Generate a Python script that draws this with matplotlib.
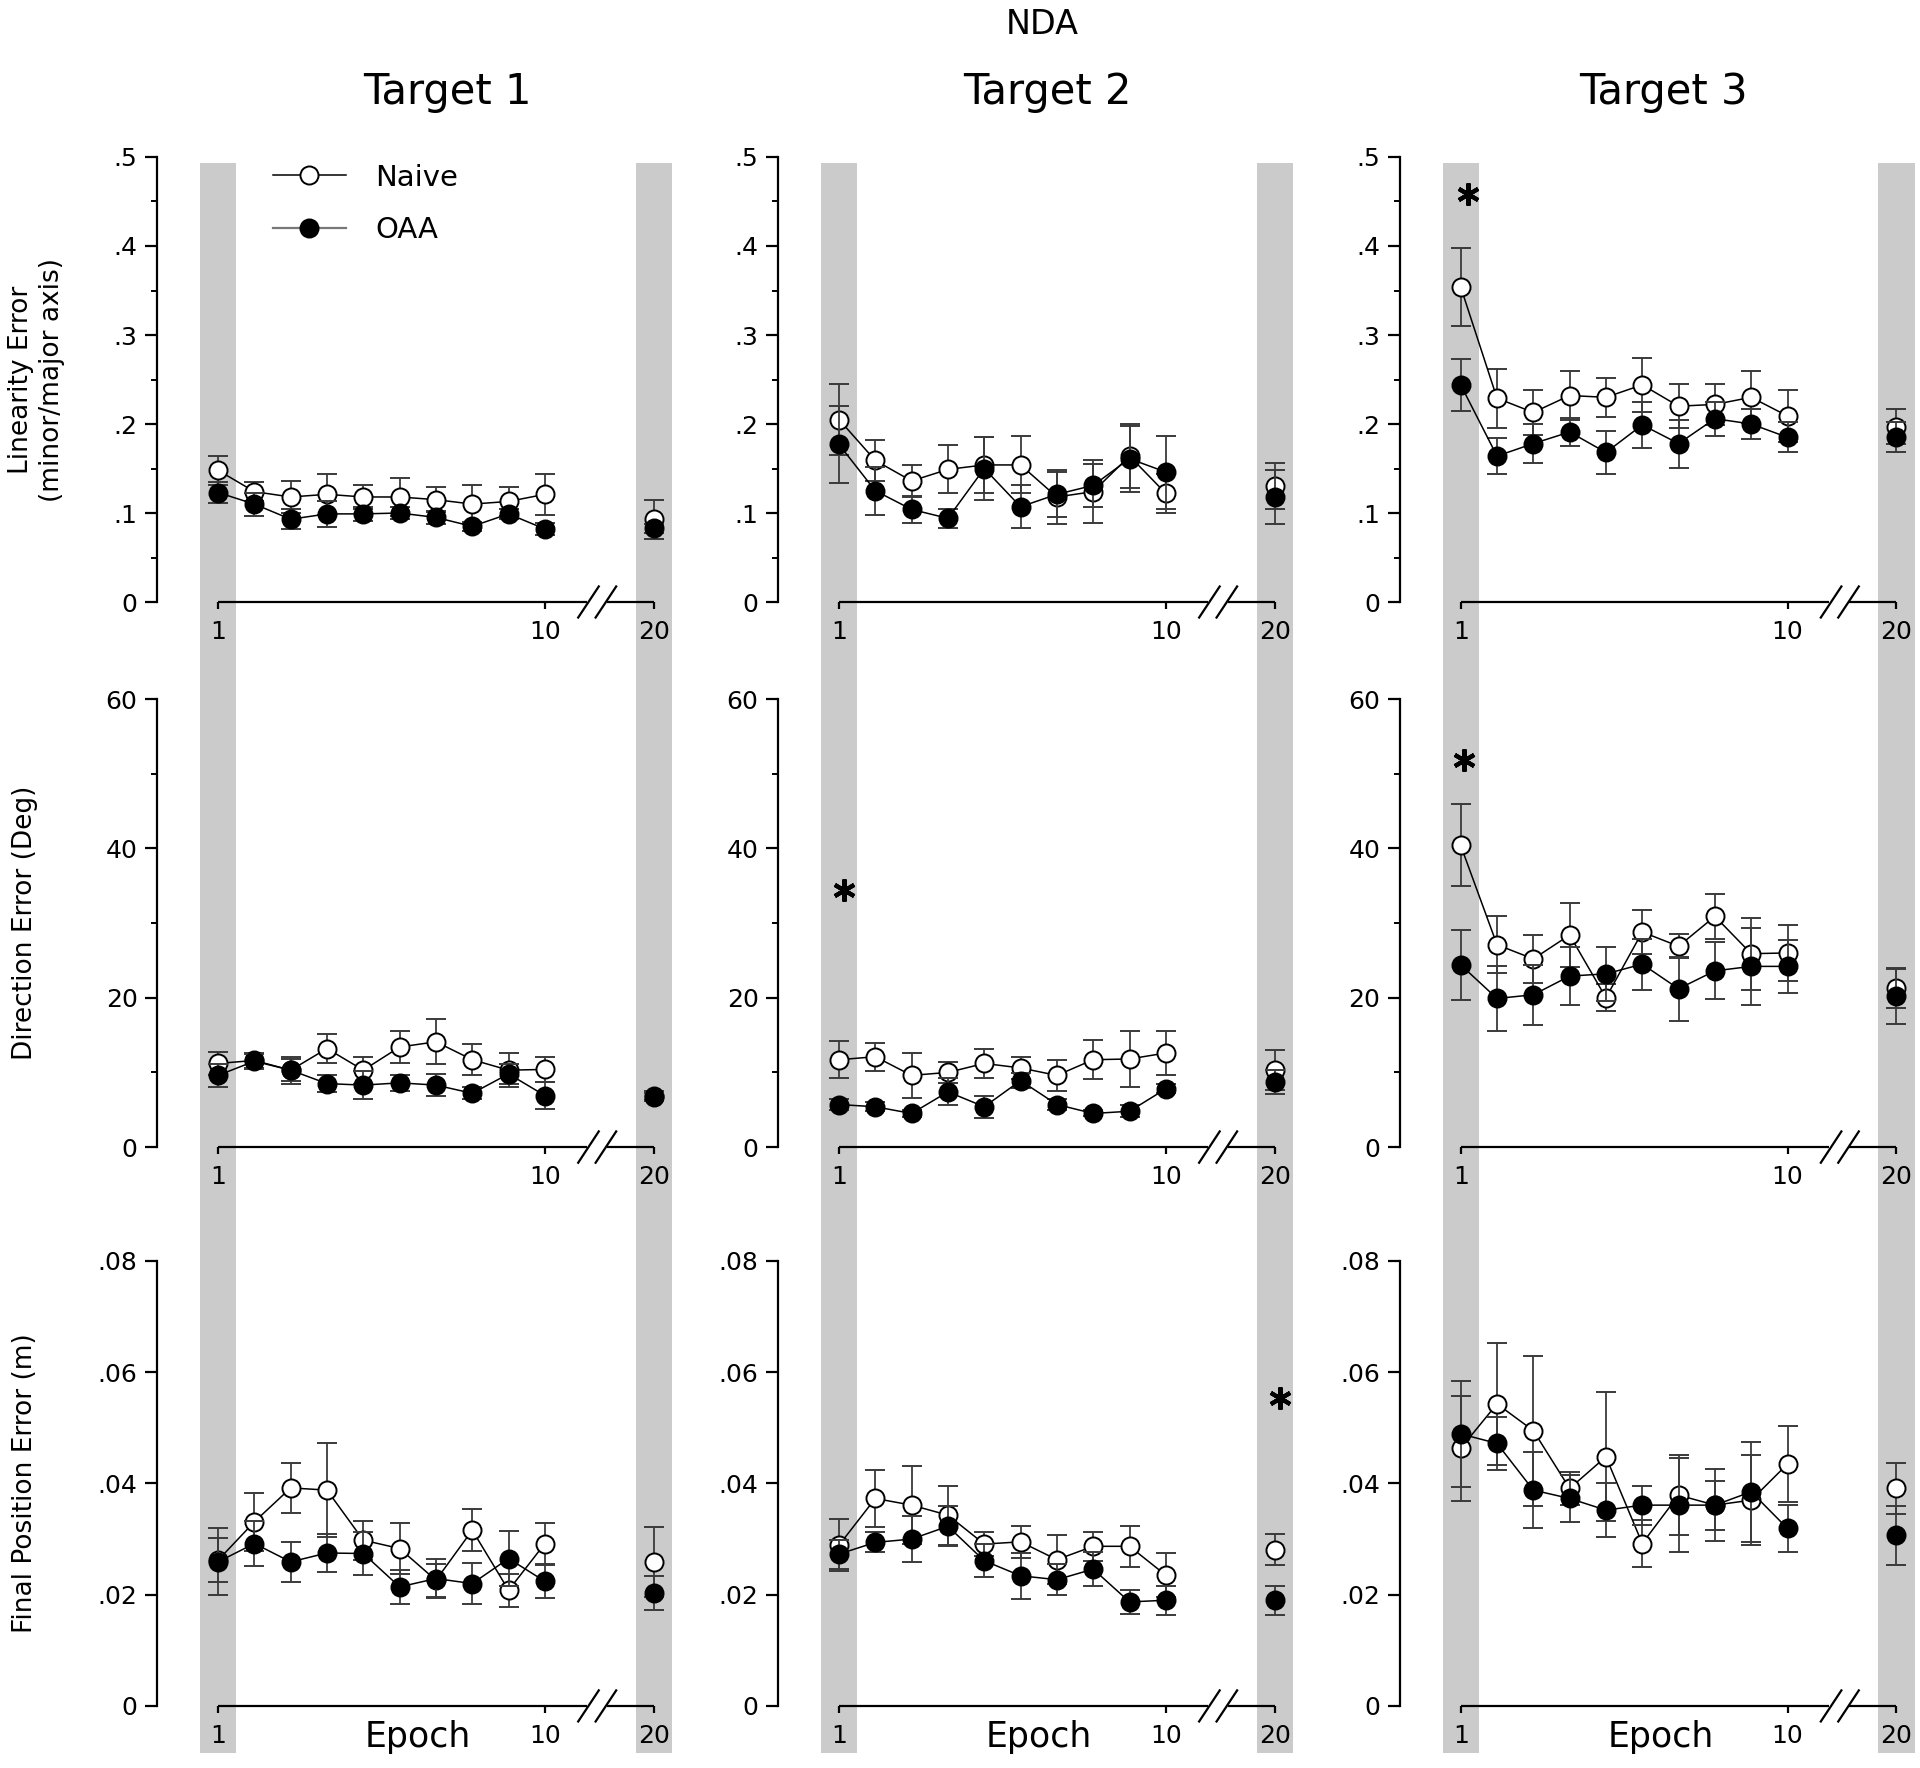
import numpy as np
import matplotlib.pyplot as plt
import matplotlib.transforms as mtransforms
from matplotlib.lines import Line2D
from matplotlib.patches import Rectangle
from matplotlib.ticker import MultipleLocator, FuncFormatter

EPOCHS = [1, 2, 3, 4, 5, 6, 7, 8, 9, 10, 20]
TARGETS = ['Target 1', 'Target 2', 'Target 3']

# Linearity error (minor/major axis)
lin_naive_t1 = [.148, .124, .118, .121, .118, .118, .115, .110, .113, .121, .093]
lin_naive_t1_err = [.016, .011, .018, .023, .014, .021, .014, .022, .016, .023, .022]
lin_oaa_t1 = [.123, .110, .093, .099, .099, .100, .095, .085, .099, .082, .083]
lin_oaa_t1_err = [.012, .013, .011, .015, .008, .007, .007, .005, .006, .007, .005]

lin_naive_t2 = [.205, .159, .136, .149, .154, .154, .118, .124, .164, .122, .130]
lin_naive_t2_err = [.040, .023, .018, .027, .031, .032, .030, .035, .036, .022, .026]
lin_oaa_t2 = [.177, .125, .104, .094, .150, .107, .121, .131, .161, .146, .118]
lin_oaa_t2_err = [.043, .027, .015, .011, .035, .024, .025, .024, .037, .041, .030]

lin_naive_t3 = [.354, .229, .213, .232, .230, .244, .220, .222, .230, .209, .197]
lin_naive_t3_err = [.044, .033, .025, .027, .022, .030, .025, .023, .029, .029, .020]
lin_oaa_t3 = [.244, .164, .178, .191, .168, .199, .178, .206, .200, .185, .185]
lin_oaa_t3_err = [.029, .020, .022, .016, .024, .026, .027, .019, .017, .017, .017]

# Direction error (deg)
dir_naive_t1 = [11.2, 11.6, 10.3, 13.2, 10.3, 13.4, 14.1, 11.7, 10.3, 10.4, 6.9]
dir_naive_t1_err = [1.5, 1.0, 1.8, 1.9, 1.8, 2.1, 3.0, 2.1, 2.3, 1.7, 0.6]
dir_oaa_t1 = [9.6, 11.5, 10.3, 8.5, 8.3, 8.6, 8.3, 7.2, 9.8, 6.9, 6.7]
dir_oaa_t1_err = [1.5, 1.0, 1.5, 1.1, 1.9, 1.1, 1.5, 0.8, 1.3, 1.8, 0.5]

dir_naive_t2 = [11.7, 12.1, 9.6, 10.0, 11.2, 10.6, 9.6, 11.7, 11.8, 12.6, 10.3]
dir_naive_t2_err = [2.5, 1.9, 3.0, 1.4, 1.9, 1.5, 2.1, 2.6, 3.7, 2.9, 2.7]
dir_oaa_t2 = [5.7, 5.4, 4.5, 7.4, 5.4, 8.9, 5.7, 4.5, 4.8, 7.8, 8.7]
dir_oaa_t2_err = [0.7, 0.6, 0.5, 1.8, 1.5, 1.0, 0.8, 0.4, 0.8, 0.6, 1.6]

dir_naive_t3 = [40.4, 27.1, 25.2, 28.4, 20.0, 28.8, 26.9, 30.9, 25.9, 26.0, 21.3]
dir_naive_t3_err = [5.5, 3.8, 3.2, 4.3, 1.8, 2.9, 1.6, 3.0, 4.8, 3.8, 2.7]
dir_oaa_t3 = [24.4, 19.9, 20.4, 22.9, 23.2, 24.5, 21.2, 23.6, 24.2, 24.2, 20.2]
dir_oaa_t3_err = [4.7, 4.3, 4.0, 3.9, 3.6, 3.4, 4.3, 3.8, 5.2, 3.5, 3.7]

# Final position error (m)
fpe_naive_t1 = [.0262, .0331, .0392, .0388, .0298, .0283, .0226, .0316, .0208, .0292, .0259]
fpe_naive_t1_err = [.004, .0052, .0045, .0084, .0035, .0045, .003, .0038, .003, .0036, .0063]
fpe_oaa_t1 = [.0259, .0292, .0259, .0275, .0274, .0214, .0229, .0220, .0265, .0224, .0203]
fpe_oaa_t1_err = [.006, .0041, .0036, .0035, .0039, .0031, .0035, .0037, .005, .003, .003]

fpe_naive_t2 = [.0289, .0373, .0361, .0343, .0291, .0295, .0263, .0287, .0287, .0235, .0281]
fpe_naive_t2_err = [.0047, .0052, .007, .0053, .0022, .0029, .0044, .0026, .0037, .004, .0028]
fpe_oaa_t2 = [.0273, .0294, .0300, .0323, .0261, .0234, .0227, .0246, .0187, .0190, .0190]
fpe_oaa_t2_err = [.0026, .0018, .0042, .0036, .003, .0041, .0028, .003, .0022, .0026, .0026]

fpe_naive_t3 = [.0463, .0543, .0495, .0391, .0448, .0292, .0379, .0361, .0370, .0435, .0391]
fpe_naive_t3_err = [.0095, .011, .0135, .003, .0116, .0042, .0072, .0044, .0081, .0068, .0046]
fpe_oaa_t3 = [.0489, .0472, .0388, .0373, .0352, .0361, .0361, .0361, .0385, .0319, .0307]
fpe_oaa_t3_err = [.0096, .0047, .0069, .0042, .0048, .0035, .0085, .0065, .009, .0042, .0053]

# significance stars: (row, column, epoch, value)
stars = [(0, 2, 1.2, .458), (1, 1, 1.15, 34.4), (1, 2, 1.1, 51.8), (2, 1, 20.15, .0553)]

rows = [
    dict(naive=[lin_naive_t1, lin_naive_t2, lin_naive_t3],
         naive_err=[lin_naive_t1_err, lin_naive_t2_err, lin_naive_t3_err],
         oaa=[lin_oaa_t1, lin_oaa_t2, lin_oaa_t3],
         oaa_err=[lin_oaa_t1_err, lin_oaa_t2_err, lin_oaa_t3_err],
         ymax=0.5, major=0.1, minor=0.05,
         label='Linearity Error\n(minor/major axis)'),
    dict(naive=[dir_naive_t1, dir_naive_t2, dir_naive_t3],
         naive_err=[dir_naive_t1_err, dir_naive_t2_err, dir_naive_t3_err],
         oaa=[dir_oaa_t1, dir_oaa_t2, dir_oaa_t3],
         oaa_err=[dir_oaa_t1_err, dir_oaa_t2_err, dir_oaa_t3_err],
         ymax=60, major=20, minor=10,
         label='Direction Error (Deg)'),
    dict(naive=[fpe_naive_t1, fpe_naive_t2, fpe_naive_t3],
         naive_err=[fpe_naive_t1_err, fpe_naive_t2_err, fpe_naive_t3_err],
         oaa=[fpe_oaa_t1, fpe_oaa_t2, fpe_oaa_t3],
         oaa_err=[fpe_oaa_t1_err, fpe_oaa_t2_err, fpe_oaa_t3_err],
         ymax=0.08, major=0.02, minor=None,
         label='Final Position Error (m)'),
]


def epoch_pos(e):
    # broken axis: epoch 20 sits 3 units after epoch 10
    e = np.asarray(e, dtype=float)
    return np.where(e > 10, e - 7, e)


def tick_fmt(v, pos):
    s = f'{v:g}'
    if s.startswith('0.'):
        s = s[1:]
    return s


def draw_series(ax, y, yerr, face, z):
    y = np.asarray(y)
    yerr = np.asarray(yerr)
    kw = dict(color='black', lw=1.1, ms=13, mfc=face, mec='black', mew=1.4,
              ecolor=err_color, elinewidth=1.3, capsize=7, capthick=1.3,
              clip_on=False, zorder=z)
    # epochs 1-10 joined by a line, epoch 20 stands alone after the break
    ax.errorbar(xpos[:-1], y[:-1], yerr=yerr[:-1], fmt='-o', **kw)
    ax.errorbar(xpos[-1:], y[-1:], yerr=yerr[-1:], fmt='o', **kw)


plt.rcParams['font.family'] = 'DejaVu Sans'
fig = plt.figure(figsize=(19.2, 17.68), dpi=100)

col_left = [0.0818, 0.4052, 0.7290]
row_bottom = [0.6595, 0.3512, 0.0351]
row_height = [0.2517, 0.2534, 0.2517]
width = 0.2682
xpos = epoch_pos(EPOCHS)
band_color = '#cbcbcb'
err_color = '#3a3a3a'

axes = [[None] * 3 for _ in range(3)]
for r, spec in enumerate(rows):
    for c in range(3):
        ax = fig.add_axes([col_left[c], row_bottom[r], width, row_height[r]])
        ax.patch.set_visible(False)
        axes[r][c] = ax
        ax.set_xlim(-0.68, 13.5)
        ax.set_ylim(0, spec['ymax'])

        draw_series(ax, spec['naive'][c], spec['naive_err'][c], 'white', 3)
        draw_series(ax, spec['oaa'][c], spec['oaa_err'][c], 'black', 4)

        for side in ['top', 'right', 'bottom']:
            ax.spines[side].set_visible(False)
        ax.spines['left'].set_linewidth(1.6)

        ax.yaxis.set_major_locator(MultipleLocator(spec['major']))
        if spec['minor']:
            ax.yaxis.set_minor_locator(MultipleLocator(spec['minor']))
        ax.yaxis.set_major_formatter(FuncFormatter(tick_fmt))
        ax.tick_params(axis='y', which='major', length=9, width=1.6, labelsize=18, pad=5)
        ax.tick_params(axis='y', which='minor', length=4.5, width=1.4)

        ax.set_xticks(epoch_pos([1, 10, 20]))
        ax.set_xticklabels(['1', '10', '20'])
        ax.tick_params(axis='x', length=5, width=1.6, labelsize=18, pad=8)

        # x axis line with break marks
        line_kw = dict(color='black', lw=1.6, clip_on=False, solid_capstyle='butt')
        ax.plot([1, 11.15], [0, 0], **line_kw)
        ax.plot([11.7, 13], [0, 0], **line_kw)
        tr = mtransforms.blended_transform_factory(ax.transData, ax.transAxes)
        for xc in [11.2, 11.68]:
            ax.plot([xc - 0.3, xc + 0.3], [-0.037, 0.037], transform=tr, **line_kw)

        if r == 2:
            ax.text(6.5, -0.07, 'Epoch', transform=tr, ha='center', va='center',
                    fontsize=25)

# grey bands spanning all rows of each column
for c in range(3):
    ax = axes[0][c]
    tr = mtransforms.blended_transform_factory(ax.transData, fig.transFigure)
    for x0 in [0.5, 12.5]:
        ax.add_patch(Rectangle((x0, 0.0085), 1.0, 0.9078 - 0.0085, transform=tr,
                               facecolor=band_color, edgecolor='none',
                               clip_on=False, zorder=0))

for r, c, e, v in stars:
    axes[r][c].plot(epoch_pos(e), v, marker=(6, 2, 0), ms=16, mew=3.0,
                    color='black', clip_on=False, zorder=5)

# legend
handles = [Line2D([], [], color='black', lw=1.1, marker='o', ms=13, mfc='white',
                  mec='black', mew=1.4),
           Line2D([], [], color='#777777', lw=1.6, marker='o', ms=13, mfc='black',
                  mec='black', mew=1.4)]
axes[0][0].legend(handles, ['Naive', 'OAA'], loc='upper left',
                  bbox_to_anchor=(0.225, 0.985), frameon=False, fontsize=21,
                  handlelength=2.5, handletextpad=1.0, labelspacing=0.85,
                  borderpad=0, borderaxespad=0)

# titles and y labels
fig.text(0.5427, 0.986, 'NDA', ha='center', va='center', fontsize=24)
for c, x in enumerate([0.2328, 0.5453, 0.8662]):
    fig.text(x, 0.948, TARGETS[c], ha='center', va='center', fontsize=30)

for r, yc in enumerate([0.785, 0.478, 0.161]):
    xc = 0.019 if r == 0 else 0.013
    fig.text(xc, yc, rows[r]['label'], rotation=90, ha='center', va='center',
             fontsize=19, linespacing=1.25)

fig.savefig('out.png', dpi=100, facecolor='white')
